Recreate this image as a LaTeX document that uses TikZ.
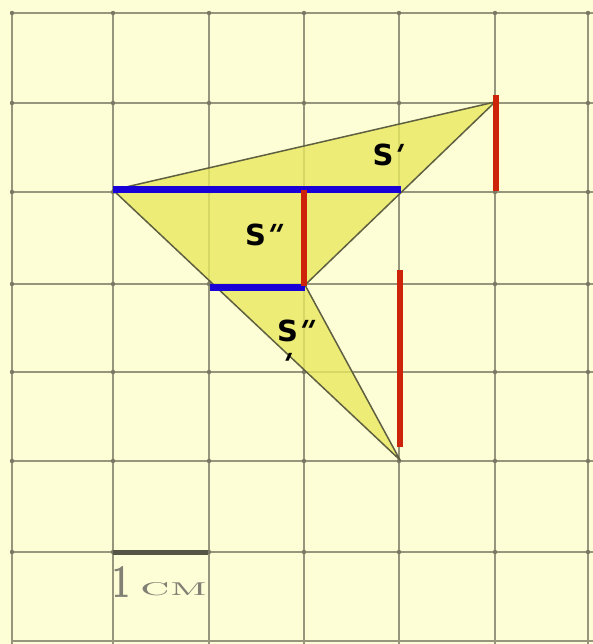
\documentclass[tikz,border=0pt]{standalone}
\usepackage{fontspec}
\usepackage{graphicx}
\newfontfamily\labfont{DejaVu Sans}
\newfontfamily\primefont[FakeSlant=0.45]{DejaVu Sans Bold}
\definecolor{bg}{RGB}{254,254,214}
\definecolor{gridc}{RGB}{150,150,125}
\definecolor{fillc}{RGB}{232,232,95}
\definecolor{edgec}{RGB}{95,95,65}
\definecolor{blu}{RGB}{25,0,215}
\definecolor{rd}{RGB}{205,35,10}
\definecolor{barc}{RGB}{85,85,70}
\newcommand{\pr}{{\primefont\char"27}}
\tikzset{
  gridline/.style={draw=gridc,line width=1.8pt},
  blueseg/.style={draw=blu,line width=7pt},
  redseg/.style={draw=rd,line width=6pt},
  lab/.style={font=\labfont\bfseries\fontsize{29}{29}\selectfont,inner sep=0pt},
}
\begin{document}
\begin{tikzpicture}[x=1pt,y=-1pt]
\useasboundingbox (0,0) rectangle (593,644);
\fill[bg] (0,0) rectangle (593,644);
% grid
\foreach \x in {12,113,209,304,399,495,588}
  \draw[gridline] (\x,13) -- (\x,644);
\foreach \y in {13,103,192,284,372,461,552,641}
  \draw[gridline] (12,\y) -- (593,\y);
\foreach \x in {12,113,209,304,399,495,588}
  \foreach \y in {13,103,192,284,372,461,552}
    \fill[gridc!80!black] (\x,\y) circle (2.2);
% shape
\coordinate (A) at (113,190);
\coordinate (B) at (495,102);
\coordinate (P) at (305,285);
\coordinate (D) at (400,460);
\fill[fillc,opacity=0.8] (A) -- (B) -- (P) -- (D) -- cycle;
\draw[edgec,line width=1.5pt,line join=round] (A) -- (B) -- (P) -- (D) -- cycle;
% blue segments
\coordinate (b1s) at (113,190);
\coordinate (b1e) at (401,190);
\coordinate (b2s) at (210,287);
\coordinate (b2e) at (305,287);
\draw[blueseg] (b1s) -- (b1e);
\draw[blueseg] (b2s) -- (b2e);
% red segments
\coordinate (r1s) at (496,95);
\coordinate (r1e) at (496,191);
\coordinate (r2s) at (304,190);
\coordinate (r2e) at (304,286);
\coordinate (r3s) at (400,270);
\coordinate (r3e) at (400,447);
\draw[redseg] (r1s) -- (r1e);
\draw[redseg] (r2s) -- (r2e);
\draw[redseg] (r3s) -- (r3e);
% labels
\node[lab] (s1) at (385,155) {S\kern-5pt\pr};
\node[lab] (s2) at (261,235) {S\kern-5pt\pr\kern-2pt\pr};
\node[lab] (s3) at (293,331) {S\kern-5pt\pr\kern-2pt\pr};
\node[lab] (s3b) at (281,364) {\pr};
% scale bar
\coordinate (sb1) at (113,552);
\coordinate (sb2) at (208,552);
\draw[barc,line width=5pt] (sb1) -- (sb2);
\node[anchor=south west,inner sep=0pt,text=barc!75] (one) at (112,598)
  {\resizebox{18pt}{31pt}{\textbf{1}}};
\node[anchor=south west,inner sep=0pt,text=barc!75] (cm) at (140,596)
  {\resizebox{67pt}{13pt}{\textsc{cm}}};
\end{tikzpicture}
\end{document}
